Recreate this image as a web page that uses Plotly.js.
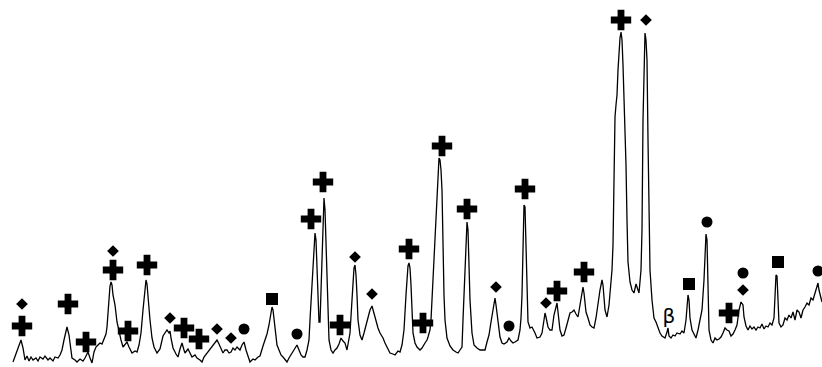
<!DOCTYPE html>
<html><head><meta charset="utf-8">
<script src="https://cdn.plot.ly/plotly-3.0.1.min.js"></script>
<style>html,body{margin:0;padding:0;background:#fff;}#c{width:822px;height:367px;}</style>
</head><body><div id="c"></div>
<script>
// Diffraction pattern, position (x) and signal level (y, measured downward on a reversed axis)
const pos = [13,15,17,19,21,23,25,27,29,31,33,36,38,40,43,45,48,50,53,55,58,60,62,64,66,67,69,71,72,75,77,80,83,85,87,88,90,92,94,96,98,100,102,104,106,107,108,109,110,111,112,113,115,117,119,121,123,125,127,129,132,135,137,139,141,143,144,145,146,147,148,150,152,154,157,160,163,165,167,169,170,171,173,176,178,180,182,184,185,188,190,192,195,197,200,202,204,207,210,212,215,217,219,221,223,225,227,229,231,233,235,237,240,242,244,246,248,250,253,255,258,260,263,265,267,269,271,272,273,275,277,279,281,283,285,287,289,291,293,295,297,299,301,303,305,307,309,310,311,312,313,314,315,316,317,318,319,320,321,322,323,324,325,326,327,328,329,331,333,335,337,339,341,343,345,347,349,350,352,353,354,355,356,357,358,360,362,364,366,368,370,372,373,375,378,380,383,385,388,390,393,395,398,400,402,404,406,407,408,409,410,411,412,413,415,417,420,422,425,427,428,430,431,432,433,434,435,436,437,438,439,440,441,442,443,444,445,447,450,453,456,458,460,462,463,464,465,466,467,468,469,470,472,474,477,480,483,485,487,489,491,493,494,495,496,498,500,502,504,507,509,511,513,515,518,520,521,522,523,524,525,526,527,528,530,532,535,537,540,542,544,545,546,548,550,552,554,556,557,558,560,562,564,566,568,570,572,574,576,578,580,582,583,584,586,588,590,592,594,596,598,600,602,603,605,607,609,611,612,613,614,615,616,617,618,619,620,621,622,623,624,625,626,627,628,630,632,634,636,637,639,641,642,643,644,645,646,647,648,649,650,652,654,656,658,660,662,665,667,668,669,671,673,675,677,680,682,684,686,687,688,689,690,692,694,696,698,700,702,704,705,706,707,708,709,711,713,715,717,719,721,723,725,727,729,731,733,735,737,739,741,743,744,746,748,750,752,754,756,758,760,762,764,766,768,770,772,774,775,776,777,778,779,781,783,785,787,789,791,793,795,797,799,801,803,805,807,809,811,813,815,817,818,819,821,822];
const level = [362,356,350,345,340,348,360,356,361,357,360,358,361,357,359,356,360,358,361,357,358,355,350,340,330,327,335,350,358,360,362,359,361,358,354,352,358,363,352,347,345,343,344,339,334,327,310,295,286,282,285,295,305,322,333,340,347,344,342,347,353,351,352,345,333,310,298,285,280,284,300,320,338,347,353,349,336,333,330,333,331,338,348,354,357,349,343,350,353,349,354,357,355,358,360,362,357,353,350,347,343,340,344,348,353,350,350,353,352,348,350,347,350,345,342,350,357,362,359,360,357,356,346,340,334,325,312,307,310,330,345,350,355,357,360,362,358,355,352,348,345,350,355,357,357,350,340,320,300,280,260,240,233,240,262,300,322,322,290,255,215,198,210,240,270,310,340,350,353,350,348,344,338,341,343,350,340,333,300,280,268,265,275,295,320,335,340,333,325,315,310,306,310,318,328,333,338,343,350,353,354,355,351,352,345,330,295,275,266,263,268,285,310,333,343,347,350,348,343,340,337,330,320,300,280,260,237,210,187,165,158,160,170,190,250,295,320,338,346,350,352,353,350,347,320,290,260,235,222,230,265,300,333,345,348,350,350,350,342,335,322,310,302,298,305,322,337,343,344,342,338,341,343,342,340,330,318,295,260,205,207,240,275,322,328,327,333,338,337,333,320,313,317,327,330,330,315,305,303,312,330,336,335,328,320,313,312,310,314,317,305,295,287,293,312,318,325,327,328,318,303,290,280,285,310,317,305,285,270,245,180,117,105,95,70,50,38,32,40,65,95,130,165,220,262,282,290,293,284,287,293,270,230,120,55,33,40,60,140,230,270,300,318,322,328,333,336,338,332,328,336,338,335,336,333,334,331,333,320,303,295,300,318,330,335,338,330,320,310,280,255,234,240,290,330,340,343,338,340,339,337,333,328,330,331,336,334,330,325,310,302,305,317,326,330,326,329,327,330,327,328,324,329,326,327,323,325,318,300,275,276,310,323,327,325,318,320,315,318,312,320,310,312,318,310,307,303,305,298,300,292,286,283,290,300,302];

// Phase markers
const crossX = [22,68,86,113,128,147,184,199,311,323,340,409,423,442,467,525,557,584,621,729];
const crossY = [326,304,342,270,331,265,328,339,219,182,325,249,323,146,209,189,291,272,20,313];
const diamondX = [22,113,170,217,231,355,372,496,546,646,743];
const diamondY = [304,251,318,329,338,257,294,287,303,20,290];
const circleX = [244,297,509,707,743,818];
const circleY = [329,334,326,222,273,271];
const squareX = [272,689,778];
const squareY = [299,284,262];
const betaX = [669];
const betaY = [318];
const betaText = ['β'];

const mk = (x, y, sym, size) => ({x, y, type:'scatter', mode:'markers', hoverinfo:'skip',
  marker:{symbol:sym, size:size, color:'#000', line:{width:0}}});

const data = [
  {x:pos, y:level, type:'scatter', mode:'lines', line:{color:'#000', width:1.3}, hoverinfo:'skip'},
  mk(crossX, crossY, 'cross', 17),
  mk(diamondX, diamondY, 'diamond', 9),
  mk(circleX, circleY, 'circle', 11),
  mk(squareX, squareY, 'square', 12),
  {x:betaX, y:betaY, type:'scatter', mode:'text', text:betaText,
   textfont:{family:'DejaVu Sans, sans-serif', size:20, color:'black'}, hoverinfo:'skip'}
];

const layout = {
  width:822, height:367, showlegend:false,
  margin:{l:0, r:0, t:0, b:0},
  paper_bgcolor:'#fff', plot_bgcolor:'#fff',
  xaxis:{range:[0,822], visible:false, fixedrange:true},
  yaxis:{range:[367,0], visible:false, fixedrange:true}
};
Plotly.newPlot('c', data, layout, {staticPlot:true, displayModeBar:false});
</script></body></html>
